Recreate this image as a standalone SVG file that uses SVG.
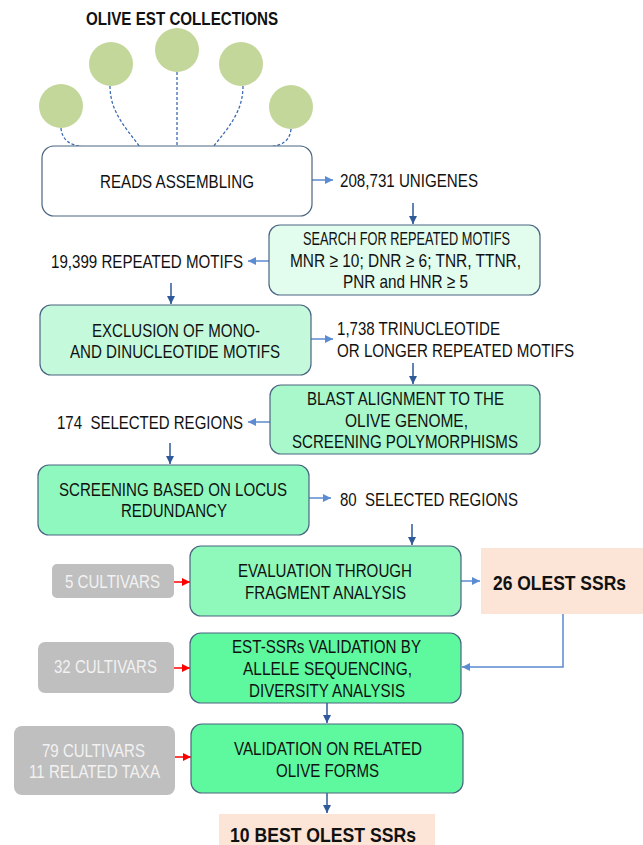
<svg xmlns="http://www.w3.org/2000/svg" width="643" height="845" viewBox="0 0 643 845">
<style>
text{font-family:"Liberation Sans",Arial,sans-serif;font-size:19px;fill:#111;}
.t{font-weight:bold;font-size:18px;}
.b{font-weight:bold;font-size:21px;}
.g{fill:#f2f2f2;}
.box{stroke:#4a6580;stroke-width:1.2;}
.gray{fill:#bfbfbf;}
.peach{fill:#fce5d6;}
.olive{fill:#c4d79b;}
.dash{fill:none;stroke:#3d6bb3;stroke-width:1.3;stroke-dasharray:3,2;}
.al{fill:none;stroke:#5b8bd0;stroke-width:1.5;}
.ad{fill:none;stroke:#2f5a9a;stroke-width:1.5;}
.ar{fill:none;stroke:#ff0000;stroke-width:1.5;}
</style>
<defs>
<marker id="ml" markerUnits="userSpaceOnUse" markerWidth="9" markerHeight="8" refX="8" refY="4" orient="auto"><path d="M0,0 L8,4 L0,8 z" fill="#5b8bd0"/></marker>
<marker id="md" markerUnits="userSpaceOnUse" markerWidth="9" markerHeight="8" refX="8" refY="4" orient="auto"><path d="M0,0 L8,4 L0,8 z" fill="#2f5a9a"/></marker>
<marker id="mr" markerUnits="userSpaceOnUse" markerWidth="9" markerHeight="8" refX="8" refY="4" orient="auto"><path d="M0,0 L8,4 L0,8 z" fill="#ff0000"/></marker>
</defs>

<g id="title"><text class="t" x="86" y="25" textLength="192" lengthAdjust="spacingAndGlyphs">OLIVE EST COLLECTIONS</text></g>

<g id="connectors">
<path class="dash" d="M61,128 C62,140 70,146 86,147"/>
<path class="dash" d="M110,86 C110,112 126,128 140,147"/>
<path class="dash" d="M177,72 L177,147"/>
<path class="dash" d="M243,86 C243,112 228,128 213,147"/>
<path class="dash" d="M291,129 C290,140 283,146 268,147"/>
<path class="al" d="M312,180 H333" marker-end="url(#ml)"/>
<path class="ad" d="M413,203 V224" marker-end="url(#md)"/>
<path class="al" d="M269,261 H248" marker-end="url(#ml)"/>
<path class="ad" d="M171,283 V304" marker-end="url(#md)"/>
<path class="al" d="M311,339 H333" marker-end="url(#ml)"/>
<path class="ad" d="M413,363 V384" marker-end="url(#md)"/>
<path class="al" d="M270,422 H248" marker-end="url(#ml)"/>
<path class="ad" d="M170,443 V464" marker-end="url(#md)"/>
<path class="al" d="M309,498 H331" marker-end="url(#ml)"/>
<path class="ad" d="M412,524 V545" marker-end="url(#md)"/>
<path class="al" d="M461,581 H480" marker-end="url(#ml)"/>
<path class="al" d="M563,614 V667 H462" marker-end="url(#ml)"/>
<path class="ar" d="M174,582 H190" marker-end="url(#mr)"/>
<path class="ar" d="M174,668 H190" marker-end="url(#mr)"/>
<path class="ad" d="M327,703 V723" marker-end="url(#md)"/>
<path class="ar" d="M175,757 H191" marker-end="url(#mr)"/>
<path class="ad" d="M327,793 V813" marker-end="url(#md)"/>
</g>

<g id="est1"><circle class="olive" cx="61" cy="106" r="22"/></g>
<g id="est2"><circle class="olive" cx="111" cy="64" r="22"/></g>
<g id="est3"><circle class="olive" cx="177" cy="50" r="22"/></g>
<g id="est4"><circle class="olive" cx="241" cy="64" r="22"/></g>
<g id="est5"><circle class="olive" cx="291" cy="107" r="22"/></g>

<g id="reads"><rect class="box" x="42" y="146" width="270" height="70" rx="12" fill="#ffffff"/>
<text x="100" y="188" textLength="154" lengthAdjust="spacingAndGlyphs">READS ASSEMBLING</text></g>

<g id="unigenes"><text x="340" y="187" textLength="138" lengthAdjust="spacingAndGlyphs">208,731 UNIGENES</text></g>

<g id="search"><rect class="box" x="269" y="225" width="271" height="70" rx="11" fill="#e2fcee"/>
<text x="303" y="245" textLength="207" lengthAdjust="spacingAndGlyphs">SEARCH FOR REPEATED MOTIFS</text>
<text x="290" y="267" textLength="231" lengthAdjust="spacingAndGlyphs">MNR ≥ 10; DNR ≥ 6; TNR, TTNR,</text>
<text x="343" y="288" textLength="125" lengthAdjust="spacingAndGlyphs">PNR and HNR ≥ 5</text></g>

<g id="repeated"><text x="51" y="268" textLength="192" lengthAdjust="spacingAndGlyphs">19,399 REPEATED MOTIFS</text></g>

<g id="exclusion"><rect class="box" x="40" y="305" width="271" height="70" rx="11" fill="#c5f9dc"/>
<text x="92" y="337" textLength="168" lengthAdjust="spacingAndGlyphs">EXCLUSION OF MONO-</text>
<text x="70" y="358" textLength="210" lengthAdjust="spacingAndGlyphs">AND DINUCLEOTIDE MOTIFS</text></g>

<g id="trinucleotide"><text x="337" y="335" textLength="163" lengthAdjust="spacingAndGlyphs">1,738 TRINUCLEOTIDE</text>
<text x="337" y="357" textLength="237" lengthAdjust="spacingAndGlyphs">OR LONGER REPEATED MOTIFS</text></g>

<g id="blast"><rect class="box" x="270" y="385" width="270" height="69" rx="11" fill="#a8f8cb"/>
<text x="307" y="405" textLength="197" lengthAdjust="spacingAndGlyphs">BLAST ALIGNMENT TO THE</text>
<text x="345" y="427" textLength="123" lengthAdjust="spacingAndGlyphs">OLIVE GENOME,</text>
<text x="292" y="448" textLength="226" lengthAdjust="spacingAndGlyphs">SCREENING POLYMORPHISMS</text></g>

<g id="sel174"><text x="57" y="429" textLength="186" lengthAdjust="spacingAndGlyphs">174&#160; SELECTED REGIONS</text></g>

<g id="screening"><rect class="box" x="38" y="465" width="271" height="70" rx="11" fill="#8ff8bf"/>
<text x="59" y="496" textLength="228" lengthAdjust="spacingAndGlyphs">SCREENING BASED ON LOCUS</text>
<text x="121" y="517" textLength="106" lengthAdjust="spacingAndGlyphs">REDUNDANCY</text></g>

<g id="sel80"><text x="340" y="506" textLength="178" lengthAdjust="spacingAndGlyphs">80&#160; SELECTED REGIONS</text></g>

<g id="evaluation"><rect class="box" x="190" y="546" width="271" height="70" rx="11" fill="#8ff8bb"/>
<text x="238" y="577" textLength="174" lengthAdjust="spacingAndGlyphs">EVALUATION THROUGH</text>
<text x="245" y="599" textLength="161" lengthAdjust="spacingAndGlyphs">FRAGMENT ANALYSIS</text></g>

<g id="olest26"><rect class="peach" x="481" y="548" width="162" height="66"/>
<text class="b" x="493" y="590" textLength="133" lengthAdjust="spacingAndGlyphs">26 OLEST SSRs</text></g>

<g id="cult5"><rect class="gray" x="52" y="564" width="122" height="34" rx="5"/>
<text class="g" x="65" y="588" textLength="95" lengthAdjust="spacingAndGlyphs">5 CULTIVARS</text></g>

<g id="estssr"><rect class="box" x="190" y="633" width="271" height="70" rx="11" fill="#5ef89e"/>
<text x="232" y="653" textLength="189" lengthAdjust="spacingAndGlyphs">EST-SSRs VALIDATION BY</text>
<text x="243" y="675" textLength="169" lengthAdjust="spacingAndGlyphs">ALLELE SEQUENCING,</text>
<text x="249" y="697" textLength="156" lengthAdjust="spacingAndGlyphs">DIVERSITY ANALYSIS</text></g>

<g id="cult32"><rect class="gray" x="38" y="642" width="136" height="51" rx="7"/>
<text class="g" x="54" y="673" textLength="103" lengthAdjust="spacingAndGlyphs">32 CULTIVARS</text></g>

<g id="validation"><rect class="box" x="191" y="724" width="272" height="69" rx="11" fill="#5ef89e"/>
<text x="234" y="755" textLength="188" lengthAdjust="spacingAndGlyphs">VALIDATION ON RELATED</text>
<text x="276" y="777" textLength="103" lengthAdjust="spacingAndGlyphs">OLIVE FORMS</text></g>

<g id="cult79"><rect class="gray" x="14" y="726" width="161" height="69" rx="8"/>
<text class="g" x="42" y="757" textLength="103" lengthAdjust="spacingAndGlyphs">79 CULTIVARS</text>
<text class="g" x="29" y="778" textLength="131" lengthAdjust="spacingAndGlyphs">11 RELATED TAXA</text></g>

<g id="best10"><rect class="peach" x="219" y="814" width="216" height="31"/>
<text class="b" x="230" y="842" textLength="186" lengthAdjust="spacingAndGlyphs">10 BEST OLEST SSRs</text></g>
</svg>
